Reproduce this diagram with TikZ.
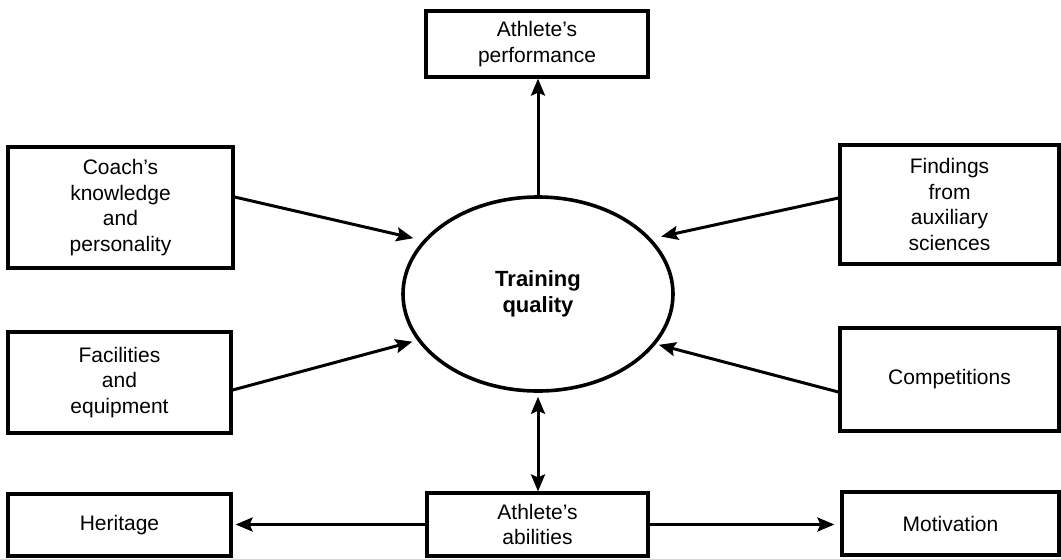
\documentclass[tikz,border=0pt]{standalone}
\usepackage{fontspec}
\setmainfont{Liberation Sans}
\usetikzlibrary{arrows.meta,shapes.geometric}
\begin{document}
\begin{tikzpicture}[x=1pt,y=-1pt,
  >={Stealth[length=17pt,width=14pt,inset=3pt]},
  box/.style={draw, line width=3.2pt, inner sep=0pt, align=center,
    font=\fontsize{21}{25.5}\selectfont},
  arr/.style={line width=3pt, ->},
  dbl/.style={line width=3pt, <->},
]
\useasboundingbox (0,0) rectangle (1061,558);
\node[box, minimum width=222pt, minimum height=66pt] (perf) at (537,44) {Athlete's\\performance};
\node[box, minimum width=225pt, minimum height=121pt] (coach) at (120.5,207.5) {Coach's\\knowledge\\and\\personality};
\node[box, minimum width=219pt, minimum height=119pt] (find) at (949.5,204.5) {Findings\\from\\auxiliary\\sciences};
\node[box, minimum width=223pt, minimum height=101pt] (facil) at (119.5,382.5) {Facilities\\and\\equipment};
\node[box, minimum width=219pt, minimum height=103pt] (comp) at (949.5,379.5) {Competitions};
\node[box, minimum width=223pt, minimum height=62pt] (herit) at (119.5,525) {Heritage};
\node[box, minimum width=221pt, minimum height=63pt] (abil) at (537.5,524.5) {Athlete's\\abilities};
\node[box, minimum width=217pt, minimum height=63pt] (motiv) at (950.5,523.5) {Motivation};
\node[draw, ellipse, line width=3.6pt, minimum width=270pt, minimum height=194pt, inner sep=0pt,
  align=center, font=\bfseries\fontsize{22}{26}\selectfont] (tq) at (538,294) {Training\\quality};

\draw[arr] (tq.north) -- (tq.north |- perf.south);
\draw[arr, shorten >=10pt] ([yshift=10.5pt]coach.east) -- (tq.155.5);
\draw[arr, shorten >=5pt] ([yshift=-7.5pt]facil.east) -- (tq.201.3);
\draw[arr, shorten >=10pt] ([yshift=6.5pt]find.west) -- (tq.26.2);
\draw[arr, shorten >=3pt] ([yshift=-12.5pt]comp.west) -- (tq.337.8);
\draw[dbl, shorten <=4pt] (tq.south) -- (tq.south |- abil.north);
\draw[arr, shorten >=3pt] (abil.west) -- (abil.west -| herit.east);
\draw[arr, shorten >=6pt] (abil.east) -- (abil.east -| motiv.west);
\end{tikzpicture}
\end{document}
